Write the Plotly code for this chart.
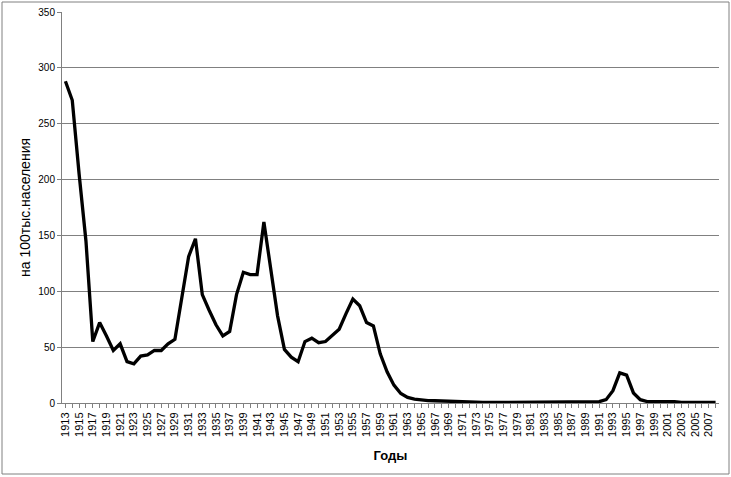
import plotly.graph_objects as go

years = list(range(1913, 2009))
values = [
    288, 271, 205, 145, 55, 72, 60, 47, 53, 37,      # 1913-1922
    35, 42, 43, 47, 47, 53, 57, 92, 131, 147,        # 1923-1932
    97, 83, 70, 60, 64, 97, 117, 115, 115, 162,      # 1933-1942
    120, 78, 48, 41, 37, 55, 58, 54, 55, 61,         # 1943-1952
    66, 80, 93, 87, 72, 69, 44, 28, 16, 8.5,         # 1953-1962
    5, 3.5, 2.5, 2.2, 2, 1.8, 1.5, 1, 0.5, 0.5,      # 1963-1972
    0.5, 0.5, 0.5, 0.5, 0.5, 0.5, 0.5, 0.5, 0.5, 1.2,  # 1973-1982
    1.2, 1.2, 1.2, 1.2, 1.2, 1.2, 1.2, 1.2, 1.2, 3,  # 1983-1992
    11, 27, 25, 9, 3, 1.3, 1.3, 1.3, 1.3, 1.3,       # 1993-2002
    0.5, 0.5, 0.5, 0.5, 0.5, 0.5,                    # 2003-2008
]
tick_text = [str(y) if (y - 1913) % 2 == 0 else "" for y in years]
y_ticks = [0, 50, 100, 150, 200, 250, 300, 350]

W, H = 731, 477
ml, mr, mt, mb = 62, 12, 12, 74
pw, ph = W - ml - mr, H - mt - mb

fig = go.Figure()
fig.add_trace(go.Scatter(
    x=years, y=values, mode="lines",
    line=dict(color="black", width=3.3),
    showlegend=False, hoverinfo="x+y",
))

fig.update_layout(
    width=W, height=H,
    margin=dict(l=ml, r=mr, t=mt, b=mb, pad=0, autoexpand=False),
    paper_bgcolor="white", plot_bgcolor="white",
    font=dict(family="Liberation Sans, Arial, sans-serif", color="black"),
    xaxis=dict(
        range=[1912.5, 2008.5], automargin=False,
        tickmode="array", tickvals=years, ticktext=tick_text,
        tickangle=-90, tickfont=dict(size=11),
        ticks="outside", ticklen=4, tickcolor="#808080",
        showline=True, linecolor="#808080", linewidth=1,
        showgrid=False, zeroline=False,
        title=dict(text="<b>Годы</b>", font=dict(size=13), standoff=15),
    ),
    yaxis=dict(
        range=[0, 350], automargin=False, tickmode="array", tickvals=y_ticks,
        tickfont=dict(size=10),
        ticks="outside", ticklen=4, tickcolor="#808080",
        showline=True, linecolor="#808080", linewidth=1,
        showgrid=True, gridcolor="#808080", gridwidth=1,
        zeroline=False,
        title=dict(text="на 100тыс.населения", font=dict(size=14), standoff=4),
    ),
    shapes=[dict(
        type="rect", xref="paper", yref="paper",
        x0=(2 - ml) / pw, x1=(729 - ml) / pw,
        y0=(mt + ph - 474) / ph, y1=(mt + ph - 2) / ph,
        line=dict(color="#808080", width=1), fillcolor="rgba(0,0,0,0)",
        layer="below",
    )],
)

fig.write_html("out.html", config={"displayModeBar": False},
               post_script="document.body.style.margin='0';")
